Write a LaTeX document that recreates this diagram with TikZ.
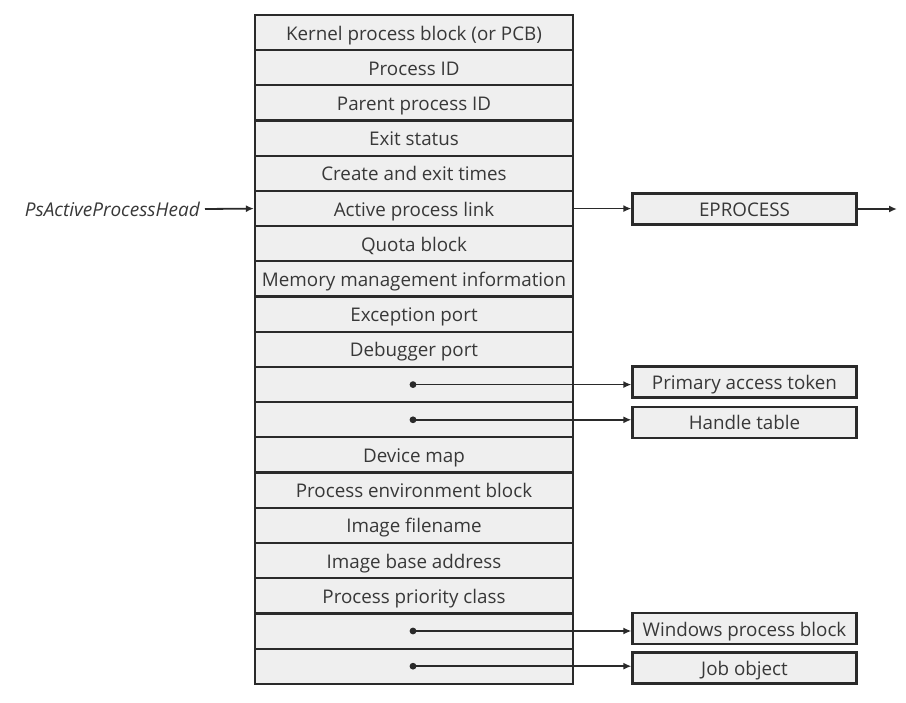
\documentclass[tikz,border=0pt]{standalone}
\usepackage{fontspec}
\setmainfont{Open Sans}
\usetikzlibrary{arrows.meta}
\definecolor{cellfill}{HTML}{EFEFEF}
\definecolor{cellline}{HTML}{2A2A2A}
\definecolor{celltext}{HTML}{383838}
\begin{document}
\begin{tikzpicture}[x=1pt,y=-1pt,
  cell/.style={draw=cellline, line width=2.2pt, fill=cellfill, text=celltext,
    minimum width=318pt, minimum height=35.2pt, inner sep=0pt, anchor=center,
    text height=19pt, text depth=4pt,
    font=\fontsize{18.8}{22}\selectfont},
  side/.style={draw=cellline, line width=2.2pt, fill=cellfill, text=celltext,
    minimum width=224pt, minimum height=31pt, inner sep=0pt, anchor=center,
    text height=19pt, text depth=4pt,
    font=\fontsize{18.8}{22}\selectfont},
  ptr/.style={draw=cellline, line width=1.8pt, -{Latex[length=8pt,width=7pt]}},
  dotmark/.style={fill=cellline, draw=none}]
\useasboundingbox (0,0) rectangle (906,703);
\foreach \t [count=\i from 0] in {Kernel process block (or PCB),Process ID,Parent process ID,Exit status,Create and exit times,Active process link,Quota block,Memory management information,Exception port,Debugger port,{},{},Device map,Process environment block,Image filename,Image base address,Process priority class,{},{}}{
  \node[cell] (r\i) at (414,{15+35.2*(\i+0.5)}) {\t};
}
% side boxes
\node[side] (ep) at (744.5,209) {EPROCESS};
\node[side] (pat) at (744.5,382) {Primary access token};
\node[side] (ht) at (744.5,422.5) {Handle table};
\node[side] (wpb) at (744.5,628.5) {Windows process block};
\node[side] (job) at (744.5,668) {Job object};
% left label
\node[anchor=east, inner sep=0pt, text=celltext, text height=19pt, text depth=4pt, font=\fontsize{19}{22}\selectfont\itshape] (head) at (200,209) {PsActiveProcessHead};
\coordinate (eout) at (897,209);
% dots
\foreach \i in {10,11,17,18}{
  \coordinate (d\i) at (413,{15+35.2*(\i+0.5)});
  \fill[dotmark] (d\i) circle (3.4pt);
}
\draw[ptr] ([xshift=5pt]head.east) -- (r5.west);
\draw[ptr] (r5.east) -- (r5.east -| ep.west);
\draw[ptr] (ep.east) -- (eout);
\draw[ptr] (d10) -- (d10 -| pat.west);
\draw[ptr] (d11) -- (d11 -| ht.west);
\draw[ptr] (d17) -- (d17 -| wpb.west);
\draw[ptr] (d18) -- (d18 -| job.west);
\end{tikzpicture}
\end{document}
